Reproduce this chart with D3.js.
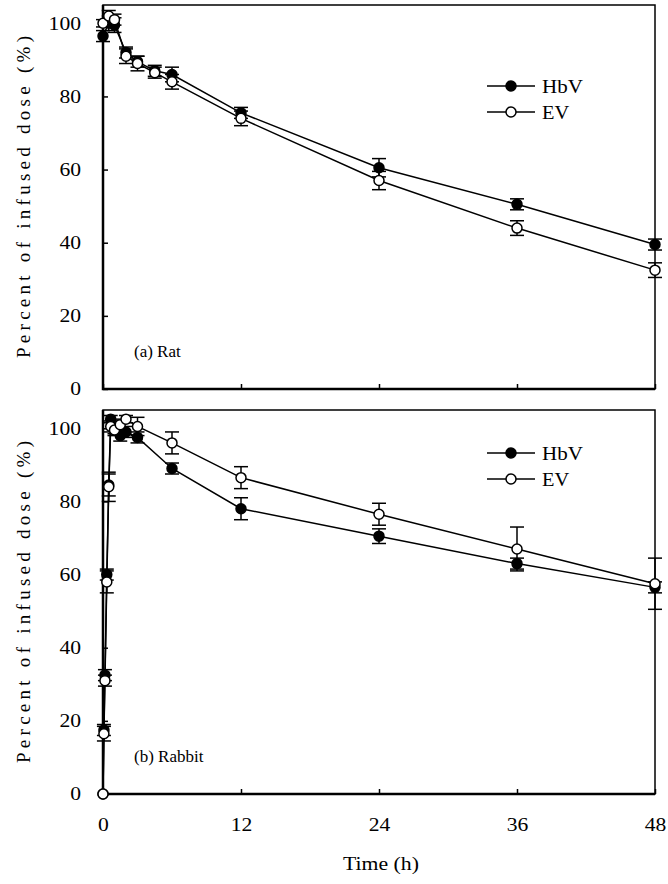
<!DOCTYPE html>
<html>
<head>
<meta charset="utf-8">
<script src="https://cdn.jsdelivr.net/npm/d3@7"></script>
<style>
  body { margin: 0; background: #fff; }
  text { font-family: "Liberation Serif", "Times New Roman", serif; fill: #000; }
</style>
</head>
<body>
<svg id="chart" width="668" height="884"></svg>
<script>
// rat (a)
var ratTime = [0, 0.5, 1, 2, 3, 4.5, 6, 12, 24, 36, 48];
var ratHbV = [96.5, 100, 99.5, 92, 89.5, 87, 86, 75.5, 60.5, 50.5, 39.5];
var ratHbVErr = [1.5, 2, 2, 1.5, 1.5, 1.5, 2, 1.5, 2.5, 1.5, 1.5];
var ratEV = [100, 102, 101, 91, 89, 86.5, 84, 74, 57, 44, 32.5];
var ratEVErr = [1, 1.5, 1.5, 2, 2, 1.5, 2, 2, 2.5, 2, 2];

// rabbit (b)
var rabbitTime = [0, 0.08, 0.17, 0.33, 0.5, 0.67, 1, 1.5, 2, 3, 6, 12, 24, 36, 48];
var rabbitHbV = [0, 17.5, 32.5, 60, 84.5, 102.5, 100, 98, 99, 97.5, 89, 78, 70.5, 63, 56.5];
var rabbitHbVErr = [0, 1.5, 1.5, 1.5, 3, 1, 1.5, 1.5, 1.5, 1.5, 1.5, 3, 2, 1.5, 1.5];
var rabbitEV = [0, 16.5, 31, 58, 84, 100.5, 99.5, 101, 102.5, 100.5, 96, 86.5, 76.5, 67, 57.5];
var rabbitEVErr = [0, 2, 1.5, 3, 4, 1.5, 1.5, 1.5, 1, 2.5, 3, 3, 3, 6, 7];

var seriesNames = ["HbV", "EV"];
var yTicks = [0, 20, 40, 60, 80, 100];
var xTicks = [0, 12, 24, 36, 48];
var panelLabels = ["(a) Rat", "(b) Rabbit"];

var svg = d3.select("#chart");

var font = "'Liberation Serif', 'Times New Roman', serif";
var left = 103, right = 655,
    panelTops = [5, 410],
    panelHeight = 384,
    legendOffset = [81, 43];

var x = d3.scaleLinear().domain([0, 48]).range([left, right]);

// the figure's lettering is a bit wider than plain Times
function styleTicks(sel) {
  sel.attr("font-size", 18)
    .attr("font-family", font)
    .attr("textLength", function() { return this.textContent.length * 10.8; })
    .attr("lengthAdjust", "spacingAndGlyphs");
}

function drawPanel(index, time, hbv, hbvErr, ev, evErr) {
  var top = panelTops[index],
      bottom = top + panelHeight;
  var y = d3.scaleLinear().domain([0, 105]).range([bottom, top]);
  var g = svg.append("g");

  // y axis, ticks pointing inward
  var yAxis = g.append("g")
    .attr("transform", "translate(" + left + ",0)")
    .call(d3.axisLeft(y).tickValues(yTicks).tickSizeInner(-5).tickSizeOuter(0).tickPadding(22));
  yAxis.select(".domain").remove();
  yAxis.selectAll("line").attr("stroke", "#000").attr("stroke-width", 1.5);
  yAxis.selectAll("text").call(styleTicks);

  var xAxis = g.append("g")
    .attr("transform", "translate(0," + bottom + ")")
    .call(d3.axisBottom(x).tickValues(xTicks).tickSizeInner(-5).tickSizeOuter(0).tickPadding(24));
  xAxis.select(".domain").remove();
  xAxis.selectAll("line").attr("stroke", "#000").attr("stroke-width", 1.5);
  if (index == 0) xAxis.selectAll("text").remove();
  else xAxis.selectAll("text").call(styleTicks);

  // frame
  g.append("rect")
    .attr("x", left).attr("y", top)
    .attr("width", right - left).attr("height", panelHeight)
    .attr("fill", "none").attr("stroke", "#000").attr("stroke-width", 1.5);
  g.append("path")
    .attr("d", "M" + left + "," + top + "V" + bottom + "H" + right)
    .attr("fill", "none").attr("stroke", "#000").attr("stroke-width", 2.5);

  g.append("text")
    .attr("transform", "translate(23," + (top + bottom) / 2 + ") rotate(-90)")
    .attr("text-anchor", "middle")
    .attr("dominant-baseline", "central")
    .attr("font-family", font)
    .attr("font-size", 19)
    .attr("textLength", 322)
    .attr("lengthAdjust", "spacing")
    .text("Percent of infused dose (%)");

  g.append("text")
    .attr("x", 134).attr("y", bottom - 32)
    .attr("font-family", font)
    .attr("font-size", 17)
    .text(panelLabels[index]);

  var sets = [
    {vals: hbv, err: hbvErr, fill: "#000"},
    {vals: ev, err: evErr, fill: "#fff"}
  ];

  var line = d3.line()
    .x(function(d) { return x(d.t); })
    .y(function(d) { return y(d.v); });

  sets.forEach(function(s) {
    var pts = time.map(function(t, i) { return {t: t, v: s.vals[i], e: s.err[i]}; });
    var sg = g.append("g");
    sg.append("path")
      .datum(pts)
      .attr("d", line)
      .attr("fill", "none")
      .attr("stroke", "#000")
      .attr("stroke-width", 1.5);

    var eb = sg.selectAll(null).data(pts.filter(function(d) { return d.e > 0; }))
      .enter().append("g")
      .attr("stroke", "#000").attr("stroke-width", 1.5);
    eb.append("line")
      .attr("x1", function(d) { return x(d.t); }).attr("x2", function(d) { return x(d.t); })
      .attr("y1", function(d) { return y(d.v - d.e); }).attr("y2", function(d) { return y(d.v + d.e); });
    eb.append("line")
      .attr("x1", function(d) { return x(d.t) - 7; }).attr("x2", function(d) { return x(d.t) + 7; })
      .attr("y1", function(d) { return y(d.v + d.e); }).attr("y2", function(d) { return y(d.v + d.e); });
    eb.append("line")
      .attr("x1", function(d) { return x(d.t) - 7; }).attr("x2", function(d) { return x(d.t) + 7; })
      .attr("y1", function(d) { return y(d.v - d.e); }).attr("y2", function(d) { return y(d.v - d.e); });

    sg.selectAll(null).data(pts)
      .enter().append("circle")
      .attr("cx", function(d) { return x(d.t); })
      .attr("cy", function(d) { return y(d.v); })
      .attr("r", 5)
      .attr("fill", s.fill)
      .attr("stroke", "#000")
      .attr("stroke-width", 1.5);
  });

  // legend
  var lg = g.selectAll(".legend").data(seriesNames)
    .enter().append("g")
    .attr("transform", function(d, i) { return "translate(0," + (top + legendOffset[index] + i * 26) + ")"; });
  lg.append("line")
    .attr("x1", 487).attr("x2", 535)
    .attr("stroke", "#000").attr("stroke-width", 1.5);
  lg.append("circle")
    .attr("cx", 511).attr("r", 5)
    .attr("fill", function(d, i) { return sets[i].fill; })
    .attr("stroke", "#000").attr("stroke-width", 1.5);
  lg.append("text")
    .attr("x", 542)
    .attr("dominant-baseline", "central")
    .attr("font-family", font)
    .attr("font-size", 19)
    .attr("textLength", function(d) { return d.length * 13.6; })
    .attr("lengthAdjust", "spacingAndGlyphs")
    .text(function(d) { return d; });
}

drawPanel(0, ratTime, ratHbV, ratHbVErr, ratEV, ratEVErr);
drawPanel(1, rabbitTime, rabbitHbV, rabbitHbVErr, rabbitEV, rabbitEVErr);

svg.append("text")
  .attr("x", (left + right) / 2 + 2).attr("y", 870)
  .attr("text-anchor", "middle")
  .attr("font-family", font)
  .attr("font-size", 18)
  .attr("textLength", 76)
  .attr("lengthAdjust", "spacingAndGlyphs")
  .text("Time (h)");
</script>
</body>
</html>
